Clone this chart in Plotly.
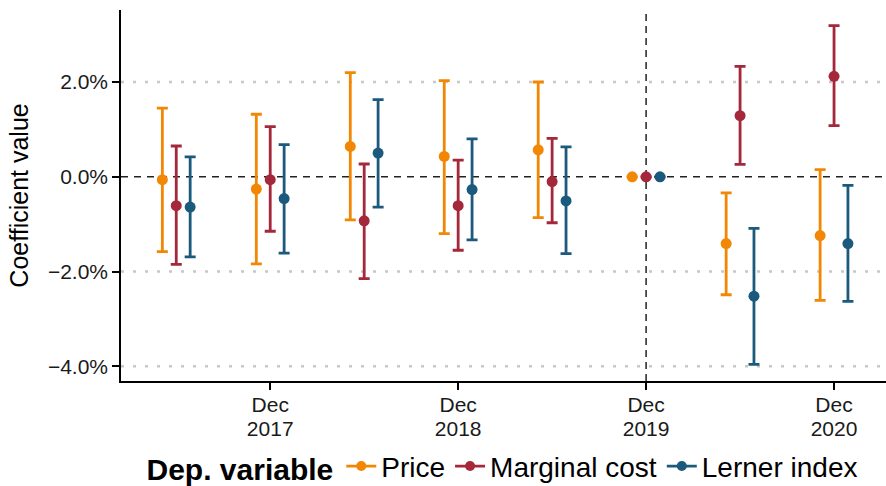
import plotly.graph_objects as go

# Event-study periods (half-yearly); Dec 2019 is the reference period
periods = ["Jun 2017", "Dec 2017", "Jun 2018", "Dec 2018",
           "Jun 2019", "Dec 2019", "Jun 2020", "Dec 2020"]
tick_periods = ["Dec 2017", "Dec 2018", "Dec 2019", "Dec 2020"]
base_period = "Dec 2019"
y_ticks = [-4, -2, 0, 2]

# Coefficient estimates (%) with 95% confidence bounds
price_est = [-0.06, -0.26, 0.64, 0.43, 0.57, 0.0, -1.41, -1.24]
price_lo = [-1.58, -1.84, -0.91, -1.20, -0.86, None, -2.49, -2.61]
price_hi = [1.45, 1.32, 2.20, 2.03, 2.00, None, -0.34, 0.15]

mc_est = [-0.61, -0.06, -0.93, -0.61, -0.10, 0.0, 1.29, 2.12]
mc_lo = [-1.85, -1.15, -2.15, -1.55, -0.97, None, 0.26, 1.08]
mc_hi = [0.65, 1.06, 0.27, 0.35, 0.81, None, 2.33, 3.19]

li_est = [-0.64, -0.46, 0.50, -0.27, -0.51, 0.0, -2.52, -1.41]
li_lo = [-1.69, -1.61, -0.64, -1.33, -1.62, None, -3.96, -2.63]
li_hi = [0.42, 0.68, 1.63, 0.80, 0.63, None, -1.09, -0.18]

series = [
    ("Price", "#F28705", price_est, price_lo, price_hi),
    ("Marginal cost", "#A4283A", mc_est, mc_lo, mc_hi),
    ("Lerner index", "#1C5A7D", li_est, li_lo, li_hi),
]

FONT = "Liberation Sans, Arial, sans-serif"
DODGE = 0.148
X_RANGE = [-0.588, 7.553]
pos = {p: i for i, p in enumerate(periods)}


def pct_label(v):
    return f"{v:.1f}%".replace("-", "\u2212")


fig = go.Figure()

for k, (name, color, est, lo, hi) in enumerate(series):
    xs = [pos[p] + (k - 1) * DODGE for p in periods]
    up = [None if h is None else h - e for e, h in zip(est, hi)]
    down = [None if l is None else e - l for e, l in zip(est, lo)]
    fig.add_trace(go.Scatter(
        x=xs, y=est, mode="markers", name=name, legendgroup=name,
        showlegend=False,
        marker=dict(color=color, size=11),
        error_y=dict(type="data", symmetric=False, array=up, arrayminus=down,
                     color=color, thickness=2.8, width=5.5),
    ))
    # legend key: point with a short horizontal range line
    fig.add_trace(go.Scatter(
        x=[None], y=[None], mode="lines+markers", name=name,
        legendgroup=name, showlegend=True,
        line=dict(color=color, width=2.8),
        marker=dict(color=color, size=10),
    ))

# empty trace so the year-label axis is laid out
fig.add_trace(go.Scatter(x=[None], y=[None], xaxis="x2", showlegend=False,
                         hoverinfo="skip"))

shapes = []
for v in y_ticks:
    if v != 0:
        shapes.append(dict(type="line", xref="paper", x0=0, x1=1, y0=v, y1=v,
                           line=dict(color="#C8C8C8", width=2.5, dash="3px,9px"),
                           layer="below"))
shapes.append(dict(type="line", xref="paper", x0=0, x1=1, y0=0, y1=0,
                   line=dict(color="#222222", width=1.5, dash="7px,6px"),
                   layer="below"))
shapes.append(dict(type="line", yref="paper", x0=pos[base_period], x1=pos[base_period],
                   y0=0, y1=1,
                   line=dict(color="#222222", width=1.5, dash="7px,5px"),
                   layer="below"))

tick_x = [pos[p] for p in tick_periods]
tick_font = dict(size=21, family=FONT, color="#1a1a1a")

fig.update_layout(
    width=886, height=486,
    margin=dict(l=121, r=0, t=10, b=105, autoexpand=False),
    paper_bgcolor="white", plot_bgcolor="white",
    font=dict(family=FONT, color="black"),
    shapes=shapes,
    showlegend=True,
    legend=dict(
        orientation="h", x=0.5, xanchor="center", y=-0.23, yanchor="middle",
        title=dict(text="<b>Dep. variable</b>", font=dict(size=30, family=FONT)),
        font=dict(size=28, family=FONT),
        itemwidth=30, traceorder="normal",
    ),
    xaxis=dict(
        range=X_RANGE, showgrid=False, zeroline=False,
        showline=True, linecolor="black", linewidth=1.5,
        ticks="outside", ticklen=7, tickwidth=1.5, tickcolor="black",
        tickvals=tick_x,
        ticktext=[p.split(" ")[0] for p in tick_periods],
        tickfont=tick_font, ticklabelstandoff=-3,
    ),
    xaxis2=dict(
        range=X_RANGE, overlaying="x", anchor="y", side="bottom",
        showgrid=False, zeroline=False, showline=False,
        ticks="outside", ticklen=7, tickcolor="rgba(0,0,0,0)",
        tickvals=tick_x,
        ticktext=[p.split(" ")[1] for p in tick_periods],
        tickfont=tick_font, ticklabelstandoff=22,
    ),
    yaxis=dict(
        range=[-4.31, 3.52], showgrid=False, zeroline=False,
        showline=True, linecolor="black", linewidth=1.5,
        ticks="outside", ticklen=7, tickwidth=1.5, tickcolor="black",
        tickvals=y_ticks, ticktext=[pct_label(v) for v in y_ticks],
        tickfont=tick_font,
        title=dict(text="Coefficient value", standoff=12,
                   font=dict(size=25, family=FONT)),
    ),
)

fig.write_html("out.html")
